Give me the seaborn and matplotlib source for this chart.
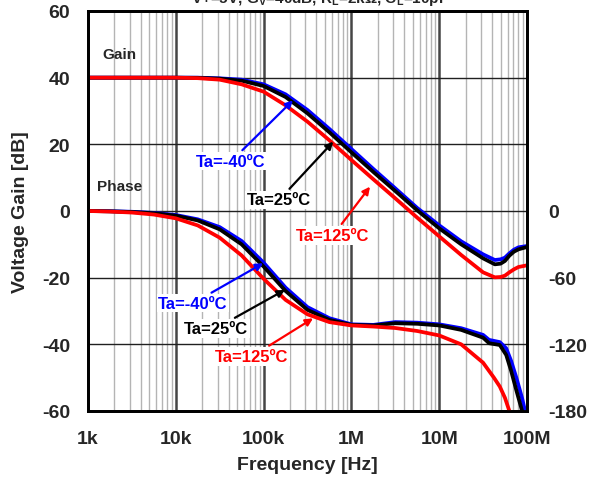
import numpy as np
import pandas as pd
import matplotlib
matplotlib.use("Agg")
import matplotlib.pyplot as plt
import seaborn as sns
from matplotlib.ticker import FixedLocator, NullFormatter, FixedFormatter

# ---------------- data ----------------
temps = ["Ta=-40ºC", "Ta=25ºC", "Ta=125ºC"]
colors = ["#0000FF", "#000000", "#FF0000"]

gain_freq = [1e3, 1.78e3, 3.16e3, 5.62e3, 1e4, 1.78e4, 3.16e4, 5.62e4, 1e5,
             1.78e5, 3.16e5, 5.62e5, 1e6, 1.78e6, 3.16e6, 5.62e6, 1e7, 1.78e7,
             3.16e7, 4.3e7, 5e7, 5.6e7, 6.3e7, 7.1e7, 8e7, 1e8]
gain_m40 = [40, 40, 40, 40, 40, 40, 39.8, 39.4, 38.0, 35.0, 30.3, 24.6, 18.6,
            12.6, 6.8, 0.9, -4.3, -9.1, -13.0, -14.7, -14.5, -14.0, -12.7,
            -11.6, -10.9, -10.5]
gain_25 = [40, 40, 40, 40, 40, 39.95, 39.7, 39.1, 37.5, 34.2, 29.3, 23.6, 17.6,
           11.7, 6.0, 0.2, -5.2, -10.0, -14.2, -16.0, -15.8, -15.0, -13.4,
           -12.2, -11.5, -10.8]
gain_125 = [40, 40, 40, 40, 40, 39.85, 39.4, 38.0, 35.8, 31.7, 26.8, 21.2, 15.3,
            9.5, 3.8, -2.0, -7.6, -13.2, -18.4, -19.9, -19.8, -19.4, -18.4,
            -17.5, -16.8, -16.3]

phase_freq_m40 = [1e3, 1.78e3, 3.16e3, 5.62e3, 1e4, 1.78e4, 3.16e4, 5.62e4, 1e5,
                  1.78e5, 3.16e5, 5.62e5, 1e6, 1.78e6, 3.16e6, 5.62e6, 1e7,
                  1.78e7, 3.16e7, 3.7e7, 4.9e7, 5.8e7, 6.6e7, 7.6e7, 8.8e7,
                  9.5e7]
phase_m40 = [0, -0.2, -0.7, -1.7, -3.6, -7.5, -14.5, -27, -46.5, -69, -86.5,
             -96.5, -102, -102.5, -100, -100.5, -102, -105.5, -111.5, -116,
             -118, -123.6, -135, -150.6, -168.6, -180]
phase_freq_25 = [1e3, 1.78e3, 3.16e3, 5.62e3, 1e4, 1.78e4, 3.16e4, 5.62e4, 1e5,
                 1.78e5, 3.16e5, 5.62e5, 1e6, 1.78e6, 3.16e6, 5.62e6, 1e7,
                 1.78e7, 3.16e7, 3.7e7, 4.9e7, 5.8e7, 6.6e7, 7.6e7, 8.8e7]
phase_25 = [0, -0.3, -0.9, -2.0, -4.2, -8.5, -16.5, -30, -50, -72, -89, -98,
            -102.5, -103, -101, -101.5, -103, -107, -114, -119, -120.6, -129.6,
            -144, -162, -180]
phase_freq_125 = [1e3, 1.78e3, 3.16e3, 5.62e3, 1e4, 1.78e4, 3.16e4, 5.62e4, 1e5,
                  1.78e5, 3.16e5, 5.62e5, 1e6, 1.78e6, 3.16e6, 5.62e6, 1e7,
                  1.78e7, 3.16e7, 3.7e7, 4.2e7, 4.9e7, 5.6e7, 6.3e7]
phase_125 = [0, -0.5, -1.4, -3.2, -6.6, -13, -24, -40, -61, -80, -93, -100,
             -103, -104, -105.3, -108, -112, -120, -136.5, -144, -150, -158,
             -168, -180]

x_ticks = [1e3, 1e4, 1e5, 1e6, 1e7, 1e8]
x_labels = ["1k", "10k", "100k", "1M", "10M", "100M"]
gain_ticks = [-60, -40, -20, 0, 20, 40, 60]
phase_ticks = [-180, -120, -60, 0]

# ---------------- frames ----------------
gain_df = pd.concat([
    pd.DataFrame({"freq": gain_freq, "val": g, "temp": t})
    for g, t in zip([gain_m40, gain_25, gain_125], temps)
], ignore_index=True)
phase_df = pd.concat([
    pd.DataFrame({"freq": f, "val": p, "temp": t})
    for f, p, t in zip([phase_freq_m40, phase_freq_25, phase_freq_125],
                       [phase_m40, phase_25, phase_125], temps)
], ignore_index=True)

# ---------------- style ----------------
sns.set_style("white")
plt.rcParams["font.family"] = ["Liberation Sans", "DejaVu Sans"]
plt.rcParams["font.weight"] = "bold"
plt.rcParams["axes.unicode_minus"] = False
plt.rcParams["mathtext.fontset"] = "custom"
plt.rcParams["mathtext.rm"] = "Liberation Sans:bold"
plt.rcParams["mathtext.it"] = "Liberation Sans:bold"
plt.rcParams["mathtext.bf"] = "Liberation Sans:bold"

fig = plt.figure(figsize=(5.91, 4.81), dpi=100)
ax = fig.add_axes([88 / 591, 1 - 412 / 481, (527 - 88) / 591, 400 / 481])
ax2 = ax.twinx()
ax.set_zorder(1)
ax2.set_zorder(2)
ax.patch.set_visible(True)
ax2.patch.set_visible(False)

palette = dict(zip(temps, colors))
line_kw = dict(lw=2.7, solid_capstyle="round", solid_joinstyle="round")

sns.lineplot(data=gain_df, x="freq", y="val", hue="temp", hue_order=temps,
             palette=palette, sort=False, estimator=None, ax=ax,
             legend=False, **line_kw)
sns.lineplot(data=phase_df, x="freq", y="val", hue="temp", hue_order=temps,
             palette=palette, sort=False, estimator=None, ax=ax2,
             legend=False, **line_kw)

for a in (ax, ax2):
    a.set_xscale("log")
    a.set_xlim(1e3, 1e8)
ax.set_ylim(-60, 60)
ax2.set_ylim(-180, 180)

# grid
minor = [m * 10 ** e for e in range(3, 8) for m in range(2, 10)]
for f in minor:
    ax.axvline(f, color="#b4b4b4", lw=1.0, zorder=0.5)
for f in x_ticks[1:-1]:
    ax.axvline(f, color="#454545", lw=1.8, zorder=0.6)
for g in gain_ticks[1:-1]:
    ax.axhline(g, color="#202020", lw=1.0, zorder=0.6)

ax.xaxis.set_major_locator(FixedLocator(x_ticks))
ax.xaxis.set_major_formatter(FixedFormatter(x_labels))
ax.xaxis.set_minor_locator(FixedLocator(minor))
ax.xaxis.set_minor_formatter(NullFormatter())
ax2.xaxis.set_minor_formatter(NullFormatter())
ax.set_yticks(gain_ticks)
ax2.set_yticks(phase_ticks)
ax.tick_params(axis="both", which="both", length=0, labelsize=14)
ax.tick_params(axis="y", pad=13)
ax.tick_params(axis="x", pad=14)
ax2.tick_params(axis="y", length=0, labelsize=14, pad=15)
for lab in ax.get_xticklabels() + ax.get_yticklabels() + ax2.get_yticklabels():
    lab.set_fontweight("bold")

for a in (ax, ax2):
    for s in a.spines.values():
        s.set_linewidth(2.0)
        s.set_color("black")

ax.set_xlabel("Frequency [Hz]", fontsize=14, fontweight="bold", labelpad=6)
ax.set_ylabel("Voltage Gain [dB]", fontsize=14, fontweight="bold", labelpad=9)
ax2.set_ylabel("")

# text labels
ax.text(2.3e3, 47, "Gain", fontsize=11, fontweight="bold", ha="center",
        va="center")
ax.text(2.3e3, 7.4, "Phase", fontsize=11, fontweight="bold", ha="center",
        va="center")

def note(axis, text, xytext, xy, color):
    axis.annotate(text, xy=xy, xytext=xytext, color=color, fontsize=12,
                  fontweight="bold", ha="center", va="center", zorder=5,
                  bbox=dict(boxstyle="square,pad=0.1", fc="white", ec="none"),
                  arrowprops=dict(arrowstyle="-|>", color=color, lw=1.6,
                                  mutation_scale=11, shrinkA=2, shrinkB=0))

# gain annotations (positions given on the phase scale = 3 x dB)
note(ax2, temps[0], (4.26e4, 14.9 * 3), (2.16e5, 33.2 * 3), colors[0])
note(ax2, temps[1], (1.5e5, 3.3 * 3), (6.22e5, 20.8 * 3), colors[1])
note(ax2, temps[2], (6.17e5, -7.3 * 3), (1.63e6, 7.3 * 3), colors[2])
# phase annotations (deg)
note(ax2, temps[0], (1.57e4, -83), (9.9e4, -47), colors[0])
note(ax2, temps[1], (2.87e4, -105.6), (1.75e5, -71), colors[1])
note(ax2, temps[2], (7.38e4, -130.8), (3.66e5, -96.6), colors[2])

# partially visible condition line at the very top (cut off as in the source)
fig.text(0.541, 1 - 3.5 / 481,
         r"V+=5V, G$_\mathrm{V}$=40dB, R$_\mathrm{L}$=2kΩ, C$_\mathrm{L}$=10pF",
         ha="center", va="baseline", fontsize=11, fontweight="bold")

fig.savefig("out.png", dpi=100)
